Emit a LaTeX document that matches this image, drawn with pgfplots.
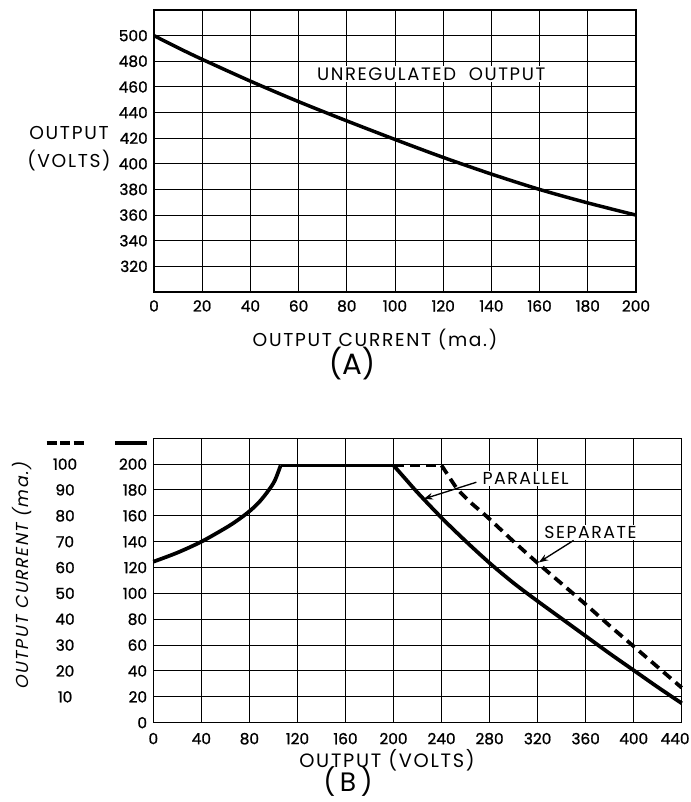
\documentclass[border=0pt]{standalone}
\usepackage{fontspec}
\setmainfont{Poppins}
\newfontfamily\slfont[FakeSlant=0.2,LetterSpace=9]{Poppins}
\newfontfamily\lblfont[LetterSpace=9]{Poppins}
\newfontfamily\tickfont[FakeBold=1.2]{Poppins}
\usepackage{pgfplots}
\pgfplotsset{compat=1.18}
\usetikzlibrary{arrows.meta}
\newcommand\yl[2]{\makebox[30pt][c]{#1}\makebox[46.5pt][r]{#2}}
\newcommand\dashsym{\vphantom{0}\rule[-1pt]{7.5pt}{2.4pt}\hspace{2.6pt}\rule[-1pt]{7.5pt}{2.4pt}\hspace{2.6pt}\rule[-1pt]{7.5pt}{2.4pt}}
\newcommand\solidsym{\vphantom{0}\rule[-1pt]{24pt}{2.4pt}}
\pgfplotsset{
  chartstyle/.style={
    scale only axis, anchor=south west,
    grid=major, major grid style={black, line width=0.75pt},
    axis line style={black, line width=1.1pt},
    major tick length=0pt,
    tick label style={font=\tickfont\fontsize{11.5}{11.5}\selectfont},
    /pgf/number format/assume math mode=true,
    yticklabel style={inner sep=0pt, xshift=-4.5pt},
    clip=false,
  }
}
\begin{document}
\begin{tikzpicture}
\path[use as bounding box] (0,0) rectangle (517.5pt,-601.5pt);
% ---------- (A)
\begin{axis}[chartstyle, at={(115.5pt,-219pt)}, width=361.5pt, height=211.5pt,
  xmin=0, xmax=200, ymin=300, ymax=520,
  xtick={0,20,...,200}, ytick={320,340,...,500},
  extra y ticks={300,520}, extra y tick labels={},
  xticklabel style={inner sep=0pt, yshift=-6pt}]
\addplot[black, line width=2.6pt, smooth] coordinates {
 (0,500) (10,490.5) (20,481.5) (40,464.5) (60,448.5) (80,433.5) (100,419) (120,405) (140,392) (160,380) (180,369.5) (200,360)};
\node[fill=white, inner sep=1pt, font=\lblfont\fontsize{13.5}{13.5}\selectfont] at (axis cs:115,470) {UNREGULATED\ \ OUTPUT};
\end{axis}
% ---------- (B)
\begin{axis}[chartstyle, at={(115pt,-542pt)}, width=396.3pt, height=213.3pt,
  xmin=0, xmax=440, ymin=0, ymax=220,
  xtick={0,40,...,400}, ytick={0,20,...,220},
  extra x ticks={440}, extra x tick labels={440},
  extra x tick style={xticklabel style={xshift=-5pt}},
  yticklabels={\yl{}{0},\yl{10}{20},\yl{20}{40},\yl{30}{60},\yl{40}{80},\yl{50}{100},\yl{60}{120},\yl{70}{140},\yl{80}{160},\yl{90}{180},\yl{100}{200},\yl{\dashsym}{\solidsym}},
  xticklabel style={inner sep=0pt, yshift=-7.5pt}]
% parallel (solid)
\addplot[black, line width=2.8pt, smooth] coordinates {
 (0,124.5) (20,131.5) (40,140) (60,150.5) (70,156.5) (80,163.5) (88,170.5) (95,178.5) (101,187) (106,199)};
\addplot[black, line width=2.8pt] coordinates {(106,199) (200,199)};
\addplot[black, line width=2.8pt, smooth] coordinates {
 (200,199) (210,188.5) (220,178) (240,158.5) (260,140.5) (280,123.5) (300,108) (320,94) (340,80.5) (360,67) (380,53.5) (400,40.5) (420,27.5) (440,15)};
% separate (dashed)
\addplot[black, line width=2.8pt, dash pattern=on 7.5pt off 4.5pt] coordinates {(200,199) (240,199)};
\addplot[black, line width=2.8pt, dash pattern=on 7.5pt off 4.5pt, smooth] coordinates {
 (240,199) (245,192) (253,181) (264,170.5) (277,160) (299,141) (320,123.5) (340,107.5) (360,91.5) (380,75) (400,59) (420,43) (440,27)};
\node[fill=white, inner sep=1pt, font=\lblfont\fontsize{13}{13}\selectfont] at (axis cs:310,189) {PARALLEL};
\node[fill=white, inner sep=1pt, font=\lblfont\fontsize{13}{13}\selectfont] at (axis cs:364,147) {SEPARATE};
\draw[line width=1pt, -{Stealth[length=7pt,width=5pt]}] (axis cs:269,186) -- (axis cs:225,173);
\draw[line width=1pt, -{Stealth[length=7pt,width=5pt]}] (axis cs:350,141) -- (axis cs:321,124);
\end{axis}
% ---------- outer labels
\begin{scope}[x=0.75pt, y=-0.75pt]
\node[align=center, font=\lblfont\fontsize{14}{21}\selectfont] at (69,149) {OUTPUT\\(VOLTS)};
\node[font=\lblfont\fontsize{14}{14}\selectfont] at (375,340) {OUTPUT CURRENT (ma.)};
\node[font=\fontsize{22}{22}\selectfont] at (352,364) {(A)};
\node[rotate=90, font=\slfont\fontsize{13}{13}\selectfont] at (22,576) {OUTPUT CURRENT (ma.)};
\node[font=\lblfont\fontsize{14.5}{14.5}\selectfont] at (387,760) {OUTPUT (VOLTS)};
\node[font=\fontsize{20}{20}\selectfont] at (348,782) {(\,B\,)};
\end{scope}
\end{tikzpicture}
\end{document}
